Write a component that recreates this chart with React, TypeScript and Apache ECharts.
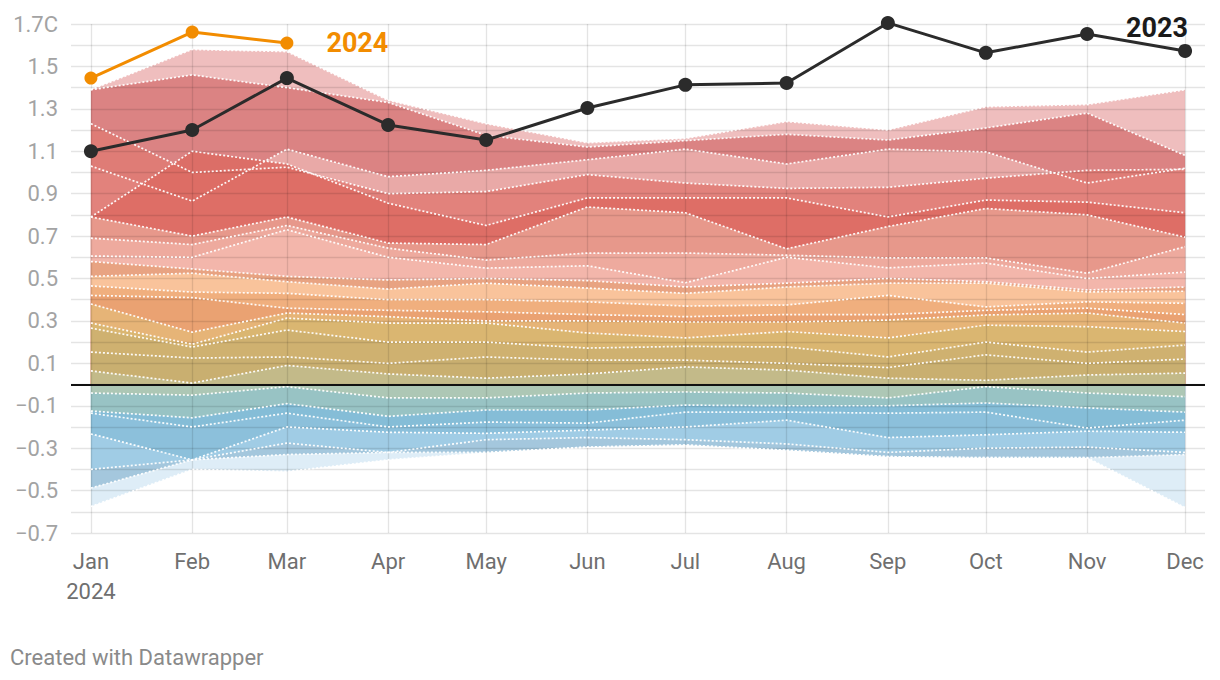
import React, { useEffect, useRef } from "react";
import * as echarts from "echarts";

// ---- data ----
const monthDates = [
  "2024-01-01", "2024-02-01", "2024-03-01", "2024-04-01", "2024-05-01", "2024-06-01",
  "2024-07-01", "2024-08-01", "2024-09-01", "2024-10-01", "2024-11-01", "2024-12-01",
];
const monthNames = ["Jan", "Feb", "Mar", "Apr", "May", "Jun", "Jul", "Aug", "Sep", "Oct", "Nov", "Dec"];

const anomaly2023 = [1.10, 1.20, 1.445, 1.224, 1.153, 1.304, 1.413, 1.422, 1.705, 1.564, 1.653, 1.573];
const anomaly2024 = [1.445, 1.662, 1.61];

// earlier years (monthly anomalies, °C)
const past01 = [1.39, 1.58, 1.57, 1.34, 1.23, 1.14, 1.16, 1.24, 1.20, 1.31, 1.32, 1.39];
const past02 = [1.39, 1.46, 1.40, 1.33, 1.175, 1.12, 1.15, 1.18, 1.153, 1.21, 1.28, 1.08];
const past03 = [1.23, 1.00, 1.025, 0.90, 0.91, 0.99, 0.95, 0.925, 0.93, 0.973, 1.01, 1.015];
const past04 = [1.03, 0.865, 1.11, 0.98, 1.01, 1.06, 1.11, 1.04, 1.11, 1.097, 0.95, 1.02];
const past05 = [0.79, 1.10, 1.04, 0.855, 0.75, 0.88, 0.88, 0.88, 0.79, 0.87, 0.86, 0.81];
const past06 = [0.79, 0.70, 0.79, 0.667, 0.66, 0.837, 0.81, 0.64, 0.745, 0.83, 0.80, 0.695];
const past07 = [0.69, 0.66, 0.75, 0.643, 0.587, 0.62, 0.62, 0.61, 0.597, 0.597, 0.525, 0.65];
const past08 = [0.606, 0.60, 0.73, 0.60, 0.549, 0.56, 0.48, 0.60, 0.55, 0.573, 0.50, 0.53];
const past09 = [0.58, 0.545, 0.51, 0.493, 0.50, 0.49, 0.46, 0.478, 0.50, 0.485, 0.446, 0.46];
const past10 = [0.51, 0.525, 0.485, 0.45, 0.478, 0.455, 0.43, 0.46, 0.478, 0.478, 0.437, 0.44];
const past11 = [0.465, 0.436, 0.43, 0.40, 0.40, 0.39, 0.37, 0.375, 0.42, 0.366, 0.39, 0.383];
const past12 = [0.42, 0.41, 0.36, 0.35, 0.343, 0.33, 0.32, 0.33, 0.33, 0.35, 0.36, 0.33];
const past13 = [0.38, 0.247, 0.337, 0.32, 0.30, 0.30, 0.295, 0.295, 0.304, 0.328, 0.337, 0.29];
const past14 = [0.29, 0.19, 0.313, 0.29, 0.29, 0.243, 0.22, 0.25, 0.22, 0.28, 0.273, 0.25];
const past15 = [0.266, 0.177, 0.257, 0.20, 0.20, 0.172, 0.18, 0.177, 0.13, 0.20, 0.153, 0.186];
const past16 = [0.153, 0.125, 0.13, 0.10, 0.13, 0.115, 0.115, 0.10, 0.08, 0.14, 0.10, 0.12];
const past17 = [0.064, 0.007, 0.09, 0.05, 0.03, 0.05, 0.083, 0.068, 0.03, 0.02, 0.045, 0.054];
const past18 = [-0.04, -0.05, -0.01, -0.063, -0.063, -0.04, -0.035, -0.04, -0.063, -0.01, -0.04, -0.057];
const past19 = [-0.125, -0.157, -0.09, -0.15, -0.12, -0.12, -0.097, -0.10, -0.10, -0.087, -0.11, -0.13];
const past20 = [-0.135, -0.20, -0.135, -0.20, -0.177, -0.182, -0.13, -0.13, -0.135, -0.13, -0.205, -0.168];
const past21 = [-0.233, -0.355, -0.20, -0.225, -0.23, -0.215, -0.20, -0.168, -0.25, -0.237, -0.22, -0.225];
const past22 = [-0.40, -0.355, -0.276, -0.32, -0.26, -0.25, -0.26, -0.28, -0.32, -0.30, -0.295, -0.32];
const past23 = [-0.488, -0.355, -0.33, -0.32, -0.32, -0.295, -0.285, -0.31, -0.34, -0.345, -0.345, -0.33];
const past24 = [-0.575, -0.40, -0.41, -0.355, -0.32, -0.295, -0.285, -0.31, -0.34, -0.345, -0.345, -0.58];

const pastYears = [
  past01, past02, past03, past04, past05, past06, past07, past08, past09, past10, past11, past12,
  past13, past14, past15, past16, past17, past18, past19, past20, past21, past22, past23, past24,
];

// ---- styles ----
const pastColors = [
  "#ecb2b2", "#d67777", "#e07b73", "#ecb0ae", "#dd6a62", "#e8a092", "#efaea2", "#f3b9ae",
  "#e6a07a", "#fbc9a0", "#eeac78", "#e8a070", "#e5b878", "#d8b670", "#cdb070", "#c8ae70",
  "#c2bc8e", "#b2c8b2", "#9cc4c0", "#84bcd6", "#88bed9", "#a0cde6", "#98c0d8", "#d8eaf5",
];

const FONT = "Roboto, 'Noto Sans', sans-serif";

export default function App() {
  const ref = useRef<HTMLDivElement>(null);

  useEffect(() => {
    if (!ref.current) return;
    const chart = echarts.init(ref.current, undefined, { renderer: "svg" });

    const toPoints = (vals: number[]) => vals.map((v, i) => [monthDates[i], v]);
    const mean = (a: number[]) => a.reduce((s, v) => s + v, 0) / a.length;

    const order = pastYears
      .map((vals, i) => ({ vals, i }))
      .sort((a, b) => Math.abs(mean(b.vals)) - Math.abs(mean(a.vals)));

    const areaSeries = order.map(({ vals, i }) => ({
      type: "line",
      name: "area" + i,
      data: toPoints(vals),
      showSymbol: false,
      silent: true,
      lineStyle: { width: 0 },
      areaStyle: { color: pastColors[i], opacity: 0.84, origin: 0 },
      z: 2,
    }));

    const dotSeries = pastYears.map((vals, i) => ({
      type: "line",
      name: "line" + i,
      data: toPoints(vals),
      showSymbol: false,
      silent: true,
      lineStyle: { color: "rgba(255,255,255,0.95)", width: 1.7, type: [2, 2] },
      z: 4,
    }));

    const dayMs = 86400000;
    const xMin = new Date(2024, 0, 1).getTime() - 6.1 * dayMs;
    const xMax = new Date(2024, 11, 1).getTime() + 6.1 * dayMs;
    const gridColor = "rgba(0,0,0,0.105)";

    chart.setOption({
      animation: false,
      grid: { left: 71, right: 15, top: 24, bottom: 147 },
      xAxis: {
        type: "time",
        min: xMin,
        max: xMax,
        z: 3,
        splitNumber: 12,
        minInterval: 28 * dayMs,
        maxInterval: 31 * dayMs,
        axisLine: { show: false },
        axisTick: { show: false },
        splitLine: { show: true, showMinLine: false, showMaxLine: false, lineStyle: { color: gridColor, width: 1.3 } },
        axisLabel: {
          showMinLabel: false,
          showMaxLabel: false,
          color: "#6f6f6f",
          fontFamily: FONT,
          fontSize: 22,
          lineHeight: 30,
          margin: 13,
          formatter: (value: number) => {
            const d = new Date(value);
            const m = d.getMonth();
            return d.getDate() === 1 ? monthNames[m] + (m === 0 ? "\n" + d.getFullYear() : "") : "";
          },
        },
      },
      yAxis: {
        type: "value",
        min: -0.7,
        max: 1.7,
        interval: 0.1,
        z: 3,
        axisLine: { show: false },
        axisTick: { show: false },
        splitLine: { show: true, lineStyle: { color: gridColor, width: 1.3 } },
        axisLabel: {
          color: "#a3a3a3",
          fontFamily: FONT,
          fontSize: 22,
          margin: 13,
          formatter: (v: number) => {
            const k = Math.round(v * 10);
            if (Math.abs(k) % 2 !== 1) return "";
            let s = (Math.abs(k) / 10).toFixed(1);
            if (k < 0) s = "\u2212" + s;
            if (k === 17) s = "1.7C";
            return s;
          },
        },
      },
      graphic: [
        {
          type: "text",
          left: 10,
          top: 646,
          style: { text: "Created with Datawrapper", fill: "#8a8a8a", font: `22px ${FONT}` },
        },
      ],
      series: [
        ...areaSeries,
        ...dotSeries,
        {
          type: "line",
          name: "2024",
          data: toPoints(anomaly2024),
          symbol: "circle",
          symbolSize: 13,
          clip: false,
          lineStyle: { color: "#f28c00", width: 3 },
          itemStyle: { color: "#f28c00" },
          label: {
            show: true,
            position: "right",
            distance: 33,
            color: "#f28c00",
            fontFamily: FONT,
            fontWeight: "bold",
            fontSize: 27,
            formatter: (p: any) => (p.dataIndex === anomaly2024.length - 1 ? "2024" : ""),
          },
          z: 5,
        },
        {
          type: "line",
          name: "2023",
          data: toPoints(anomaly2023),
          symbol: "circle",
          symbolSize: 14,
          clip: false,
          lineStyle: { color: "#2b2b2b", width: 3 },
          itemStyle: { color: "#2b2b2b" },
          label: {
            show: true,
            position: "top",
            align: "right",
            distance: 2,
            offset: [3, 0],
            color: "#1a1a1a",
            fontFamily: FONT,
            fontWeight: "bold",
            fontSize: 27,
            formatter: (p: any) => (p.dataIndex === anomaly2023.length - 1 ? "2023" : ""),
          },
          markLine: {
            silent: true,
            symbol: "none",
            label: { show: false },
            lineStyle: { color: "#111", width: 2, type: "solid" },
            data: [{ yAxis: 0 }],
          },
          z: 5,
        },
      ],
    });

    return () => chart.dispose();
  }, []);

  return (
    <div
      ref={ref}
      style={{ position: "fixed", left: 0, top: 0, width: 1220, height: 680, background: "#fff" }}
    />
  );
}
